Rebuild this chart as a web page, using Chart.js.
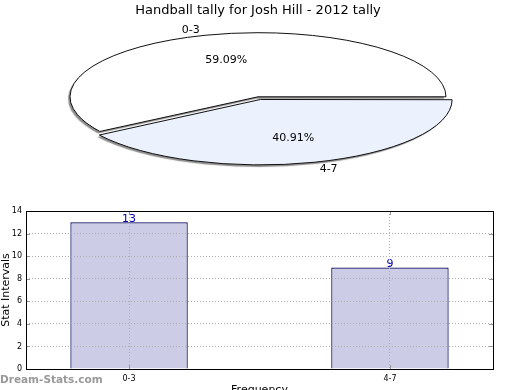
<!DOCTYPE html>
<html>
<head>
<meta charset="utf-8">
<script src="https://cdn.jsdelivr.net/npm/chart.js@4/dist/chart.umd.min.js"></script>
<style>
  html, body { margin: 0; padding: 0; background: #fff; width: 520px; height: 390px; overflow: hidden; }
  #pieWrap { position: absolute; left: 0; top: 0; width: 520px; height: 200px; }
  #barWrap { position: absolute; left: 0; top: 200px; width: 520px; height: 200px; }
  #wm { position: absolute; left: 0; top: 373px; font: bold 10.5px "DejaVu Sans", sans-serif; color: #999; white-space: nowrap; }
</style>
</head>
<body>
<div id="pieWrap"><canvas id="pie" width="520" height="200"></canvas></div>
<div id="barWrap"><canvas id="bar" width="520" height="200"></canvas></div>
<div id="wm">Dream-Stats.com</div>
<script>
// ---- data ----
const chartTitle = 'Handball tally for Josh Hill - 2012 tally';
const categories = ['0-3', '4-7'];
const values = [13, 9];
const yTicks = [0, 2, 4, 6, 8, 10, 12, 14];
const xTitle = 'Frequency';
const yTitle = 'Stat Intervals';

const FONT = '"DejaVu Sans", sans-serif';
const SQUASH = 0.341;   // vertical squash of the pie (tilted look)
const total = values.reduce((a, b) => a + b, 0);

// --- pie: squash + flip so slices go counter-clockwise from 3 o'clock ---
const pieTilt = {
  id: 'pieTilt',
  beforeDatasetsDraw(chart) {
    const ctx = chart.ctx;
    const a = chart.getDatasetMeta(0).data[0];
    ctx.save();
    ctx.translate(a.x, a.y);
    ctx.scale(1, -SQUASH);
    ctx.translate(-a.x, -a.y);
    ctx.shadowColor = 'rgba(0,0,0,0.45)';
    ctx.shadowOffsetX = -2;
    ctx.shadowOffsetY = 2;
    ctx.shadowBlur = 1;
    const dpr = chart.currentDevicePixelRatio || 1;
    const orig = CanvasRenderingContext2D.prototype.stroke;
    ctx.stroke = function () {
      this.save();
      this.setTransform(dpr, 0, 0, dpr, 0, 0);
      this.shadowColor = 'rgba(0,0,0,0)';
      orig.apply(this, arguments);
      this.restore();
    };
  },
  afterDatasetsDraw(chart) {
    const ctx = chart.ctx;
    delete ctx.stroke;
    ctx.restore();
    // labels
    const meta = chart.getDatasetMeta(0);
    ctx.save();
    ctx.font = '11px ' + FONT;
    ctx.fillStyle = '#000';
    ctx.textBaseline = 'middle';
    meta.data.forEach((arc, i) => {
      const p = arc.getProps(['x', 'y', 'startAngle', 'endAngle', 'outerRadius', 'circumference']);
      const mid = (p.startAngle + p.endAngle) / 2;
      const off = (arc.options.offset || 0) / 4;
      const fix = 1 - Math.sin(Math.min(Math.PI, p.circumference || 0));
      const t = off + off * fix;
      const toScreen = (f) => {
        const px = p.x + Math.cos(mid) * (t + f * p.outerRadius);
        const py = p.y + Math.sin(mid) * (t + f * p.outerRadius);
        return [px, p.y - SQUASH * (py - p.y)];
      };
      const [lx, ly] = toScreen(1.1);
      ctx.textAlign = Math.cos(mid) > 0 ? 'left' : 'right';
      ctx.fillText(categories[i], lx, ly + 1);
      const [qx, qy] = toScreen(0.6);
      ctx.textAlign = 'center';
      ctx.fillText((values[i] / total * 100).toFixed(2) + '%', qx, qy);
    });
    ctx.restore();
  }
};

new Chart(document.getElementById('pie'), {
  type: 'pie',
  data: {
    labels: categories,
    datasets: [{
      data: values,
      backgroundColor: ['#ffffff', '#ebf1fd'],
      borderColor: '#111',
      borderWidth: 1,
      borderJoinStyle: 'miter',
      offset: [0, 33]
    }]
  },
  options: {
    responsive: false,
    animation: false,
    events: [],
    rotation: 90,
    radius: 188,
    layout: { padding: { left: 0, right: 4, top: 0, bottom: 29 } },
    plugins: {
      legend: { display: false },
      tooltip: { enabled: false },
      title: {
        display: true, text: chartTitle, color: '#000',
        font: { family: FONT, size: 13, weight: 'normal' },
        padding: { top: 3, bottom: 4 }
      }
    }
  },
  plugins: [pieTilt]
});

// --- bar chart ---
const barExtras = {
  id: 'barExtras',
  afterDatasetsDraw(chart) {
    const ctx = chart.ctx;
    const meta = chart.getDatasetMeta(0);
    ctx.save();
    ctx.font = '11px ' + FONT;
    ctx.fillStyle = '#0000b0';
    ctx.textAlign = 'center';
    ctx.textBaseline = 'bottom';
    meta.data.forEach((b, i) => {
      ctx.fillText(String(values[i]), b.x, b.y + 2);
    });
    ctx.restore();
  },
  afterDraw(chart) {
    const ctx = chart.ctx;
    const a = chart.chartArea;
    const xs = chart.scales.x, ys = chart.scales.y;
    ctx.save();
    ctx.strokeStyle = '#999';
    ctx.lineWidth = 1;
    ctx.beginPath();
    ys.ticks.forEach(t => {
      const y = Math.round(ys.getPixelForValue(t.value)) + 0.5;
      ctx.moveTo(a.left, y); ctx.lineTo(a.left + 4, y);
      ctx.moveTo(a.right, y); ctx.lineTo(a.right - 4, y);
    });
    xs.ticks.forEach(t => {
      const x = Math.round(xs.getPixelForValue(t.value)) + 0.5;
      ctx.moveTo(x, a.bottom); ctx.lineTo(x, a.bottom - 4);
      ctx.moveTo(x, a.top); ctx.lineTo(x, a.top + 4);
    });
    ctx.stroke();
    ctx.strokeStyle = '#000';
    ctx.strokeRect(Math.round(a.left) + 0.5, Math.round(a.top) + 0.5,
                   Math.round(a.right - a.left), Math.round(a.bottom - a.top));
    ctx.restore();
  }
};

new Chart(document.getElementById('bar'), {
  type: 'bar',
  data: {
    datasets: [{
      data: categories.map((c, i) => ({ x: i, y: values[i] })),
      backgroundColor: '#ccccE6',
      borderColor: '#00005a',
      borderWidth: 1.2,
      categoryPercentage: 1,
      barPercentage: 0.45
    }]
  },
  options: {
    responsive: false,
    animation: false,
    events: [],
    layout: { padding: { left: 0, right: 27, top: 11, bottom: 0 } },
    plugins: { legend: { display: false }, tooltip: { enabled: false } },
    scales: {
      x: {
        type: 'linear', min: -0.395, max: 1.395, offset: false,
        afterBuildTicks: s => { s.ticks = categories.map((c, i) => ({ value: i })); },
        afterFit: s => { s.height = 31; },
        ticks: { callback: v => categories[v], color: '#000', font: { family: FONT, size: 8 }, padding: 5, maxRotation: 0 },
        grid: { color: '#b0b0b0', drawTicks: false, offset: false, z: 1 },
        border: { display: false, dash: [1, 2] },
        title: { display: true, text: xTitle, color: '#000', font: { family: FONT, size: 11 }, padding: { top: 0, bottom: 3 } }
      },
      y: {
        min: 0, max: 14,
        afterBuildTicks: s => { s.ticks = yTicks.map(v => ({ value: v })); },
        afterFit: s => { s.width = 26; },
        ticks: { color: '#000', font: { family: FONT, size: 8 }, padding: 4 },
        grid: { color: '#b0b0b0', drawTicks: false, z: 1 },
        border: { display: false, dash: [1, 2] },
        title: { display: true, text: yTitle, color: '#000', font: { family: FONT, size: 11 }, padding: { top: 0, bottom: 0 } }
      }
    }
  },
  plugins: [barExtras]
});
</script>
</body>
</html>
